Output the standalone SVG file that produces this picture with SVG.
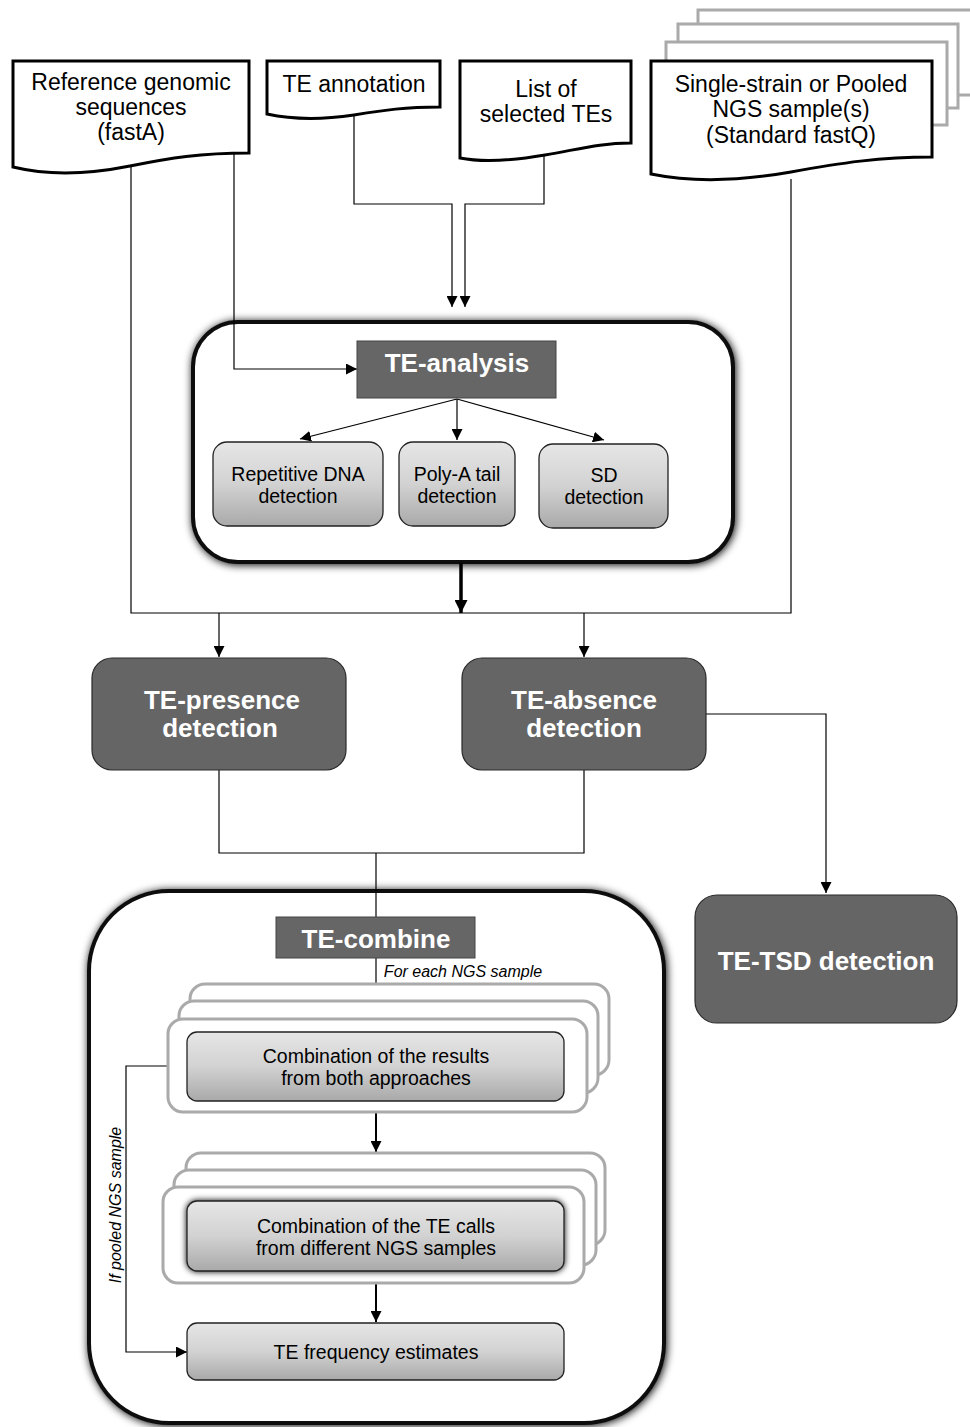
<svg xmlns="http://www.w3.org/2000/svg" width="970" height="1427" viewBox="0 0 970 1427">
<defs>
<style>
text{font-family:"Liberation Sans",Arial,sans-serif;fill:#000;text-anchor:middle}
.doc{fill:#fff;stroke:#000;stroke-width:3}
.ghost{fill:#fff;stroke:#aaa;stroke-width:3}
.dark{fill:#656565;stroke:#2a2a2a;stroke-width:1.2}
.lbl{fill:#666;stroke:#444;stroke-width:1}
.wt{fill:#fff;font-weight:bold;font-size:26px}
.sub{fill:url(#g);stroke:#222;stroke-width:1.3}
.st{font-size:19.5px}
.cont{fill:#fff;stroke:#111;stroke-width:4}
.ln{fill:none;stroke:#000;stroke-width:1.2}
.it{font-style:italic;font-size:16px}
</style>
<linearGradient id="g" x1="0" y1="0" x2="0" y2="1">
<stop offset="0" stop-color="#e6e6e6"/>
<stop offset="0.5" stop-color="#d2d2d2"/>
<stop offset="1" stop-color="#a9a9a9"/>
</linearGradient>
<filter id="sh" x="-10%" y="-10%" width="120%" height="120%">
<feGaussianBlur in="SourceAlpha" stdDeviation="4.5" result="b"/>
<feOffset in="b" dx="1" dy="1" result="o"/>
<feMerge><feMergeNode in="o"/><feMergeNode in="SourceGraphic"/></feMerge>
</filter>
<filter id="sh2" x="-10%" y="-20%" width="120%" height="140%">
<feGaussianBlur in="SourceAlpha" stdDeviation="3" result="b"/>
<feMerge><feMergeNode in="b"/><feMergeNode in="SourceGraphic"/></feMerge>
</filter>
<marker id="a" viewBox="0 0 10 10" refX="10" refY="5" markerWidth="11" markerHeight="11" markerUnits="userSpaceOnUse" orient="auto">
<path d="M0,0 L10,5 L0,10 Z" fill="#000"/>
</marker>
<marker id="ab" viewBox="0 0 10 10" refX="10" refY="5" markerWidth="13" markerHeight="13" markerUnits="userSpaceOnUse" orient="auto">
<path d="M0,0 L10,5 L0,10 Z" fill="#000"/>
</marker>
</defs>
<rect width="970" height="1427" fill="#fff"/>

<!-- containers -->
<g id="te-analysis-container">
<rect class="cont" x="193" y="322" width="540" height="240" rx="45" filter="url(#sh)"/>
</g>
<g id="te-combine-container">
<rect class="cont" x="89" y="891" width="575" height="532" rx="80" filter="url(#sh)"/>
</g>

<!-- input documents -->
<g id="ref-genome">
<path class="doc" d="M13,61 H249 V153 C200,153 170,158 130,166 C90,174 50,176 13,167 Z"/>
<text font-size="23" x="131" y="90">Reference genomic</text>
<text font-size="23" x="131" y="115">sequences</text>
<text font-size="23" x="131" y="140">(fastA)</text>
</g>
<g id="te-annotation">
<path class="doc" d="M267,61 H440 V107 C405,107 385,110 354,115 C320,120 290,119 267,114 Z"/>
<text font-size="23" x="354" y="92">TE annotation</text>
</g>
<g id="selected-tes">
<path class="doc" d="M460,61 H631 V143 C600,143 580,149 545,155 C510,161 480,162 460,158 Z"/>
<text font-size="23" x="546" y="97">List of</text>
<text font-size="23" x="546" y="122">selected TEs</text>
</g>
<g id="ngs-samples">
<rect class="ghost" x="698" y="10" width="290" height="85"/>
<rect class="ghost" x="678" y="24" width="280" height="84"/>
<rect class="ghost" x="666" y="42" width="281" height="83"/>
<path class="doc" d="M651,61 H932 V157 C880,157 840,163 791,172 C740,181 690,182 651,174 Z"/>
<text font-size="23" x="791" y="92">Single-strain or Pooled</text>
<text font-size="23" x="791" y="117">NGS sample(s)</text>
<text font-size="23" x="791" y="143">(Standard fastQ)</text>
</g>

<!-- connectors -->
<g id="connectors">
<path class="ln" d="M234,153 V369 H357" marker-end="url(#a)"/>
<path class="ln" d="M354,116 V204 H452 V307" marker-end="url(#a)"/>
<path class="ln" d="M544,156 V204 H465 V307" marker-end="url(#a)"/>
<path class="ln" d="M457,399 L300,439" marker-end="url(#a)"/>
<path class="ln" d="M457,399 V440" marker-end="url(#a)"/>
<path class="ln" d="M457,399 L604,440" marker-end="url(#a)"/>
<path class="ln" d="M131,166 V613 H791 V179"/>
<path fill="none" stroke="#000" stroke-width="3.5" d="M461,563 V613" marker-end="url(#ab)"/>
<path class="ln" d="M219,613 V657" marker-end="url(#a)"/>
<path class="ln" d="M584,613 V657" marker-end="url(#a)"/>
<path class="ln" d="M706,714 H826 V893" marker-end="url(#a)"/>
<path class="ln" d="M219,770 V853 H584 V770"/>
<path class="ln" d="M376,853 V1031" marker-end="url(#a)"/>
<path fill="none" stroke="#000" stroke-width="2" d="M376,1101 V1152" marker-end="url(#a)"/>
<path fill="none" stroke="#000" stroke-width="2" d="M376,1271 V1322" marker-end="url(#a)"/>
<path class="ln" d="M187,1066 H126 V1352 H187" marker-end="url(#a)"/>
</g>

<!-- TE-analysis -->
<g id="te-analysis">
<rect class="lbl" x="357" y="341" width="199" height="57"/>
<text class="wt" x="457" y="372">TE-analysis</text>
</g>
<g id="repetitive-dna">
<rect class="sub" x="213" y="442" width="170" height="84" rx="14"/>
<text class="st" x="298" y="481">Repetitive DNA</text>
<text class="st" x="298" y="503">detection</text>
</g>
<g id="polya">
<rect class="sub" x="399" y="442" width="116" height="84" rx="14"/>
<text class="st" x="457" y="481">Poly-A tail</text>
<text class="st" x="457" y="503">detection</text>
</g>
<g id="sd">
<rect class="sub" x="539" y="444" width="129" height="84" rx="14"/>
<text class="st" x="604" y="482">SD</text>
<text class="st" x="604" y="504">detection</text>
</g>

<!-- detection modules -->
<g id="te-presence">
<rect class="dark" x="92" y="658" width="254" height="112" rx="20"/>
<text class="wt" x="222" y="709">TE-presence</text>
<text class="wt" x="220" y="737">detection</text>
</g>
<g id="te-absence">
<rect class="dark" x="462" y="658" width="244" height="112" rx="20"/>
<text class="wt" x="584" y="709">TE-absence</text>
<text class="wt" x="584" y="737">detection</text>
</g>
<g id="te-tsd">
<rect class="dark" x="695" y="895" width="262" height="128" rx="22"/>
<text class="wt" x="826" y="970">TE-TSD detection</text>
</g>

<!-- TE-combine -->
<g id="te-combine">
<rect class="lbl" x="276" y="917" width="199" height="41"/>
<text class="wt" x="376" y="948">TE-combine</text>
<text class="it" x="463" y="977">For each NGS sample</text>
</g>
<g id="combine-results">
<rect class="ghost" x="190" y="984" width="419" height="91" rx="15"/>
<rect class="ghost" x="179" y="1001" width="419" height="92" rx="15"/>
<rect class="ghost" x="168" y="1019" width="419" height="93" rx="15"/>
<rect class="sub" x="187" y="1032" width="377" height="69" rx="10"/>
<text class="st" x="376" y="1063">Combination of the results</text>
<text class="st" x="376" y="1085">from both approaches</text>
</g>
<g id="combine-calls">
<rect class="ghost" x="186" y="1153" width="419" height="92" rx="15"/>
<rect class="ghost" x="174" y="1170" width="422" height="95" rx="15"/>
<rect class="ghost" x="163" y="1187" width="421" height="96" rx="15"/>
<rect class="sub" x="187" y="1201" width="377" height="70" rx="10" filter="url(#sh2)"/>
<text class="st" x="376" y="1233">Combination of the TE calls</text>
<text class="st" x="376" y="1255">from different NGS samples</text>
</g>
<g id="frequency">
<rect class="sub" x="187" y="1323" width="377" height="57" rx="10"/>
<text class="st" x="376" y="1359">TE frequency estimates</text>
</g>
<g id="pooled-label">
<text class="it" font-size="16.5" transform="translate(121,1205) rotate(-90)">If pooled NGS sample</text>
</g>
</svg>
